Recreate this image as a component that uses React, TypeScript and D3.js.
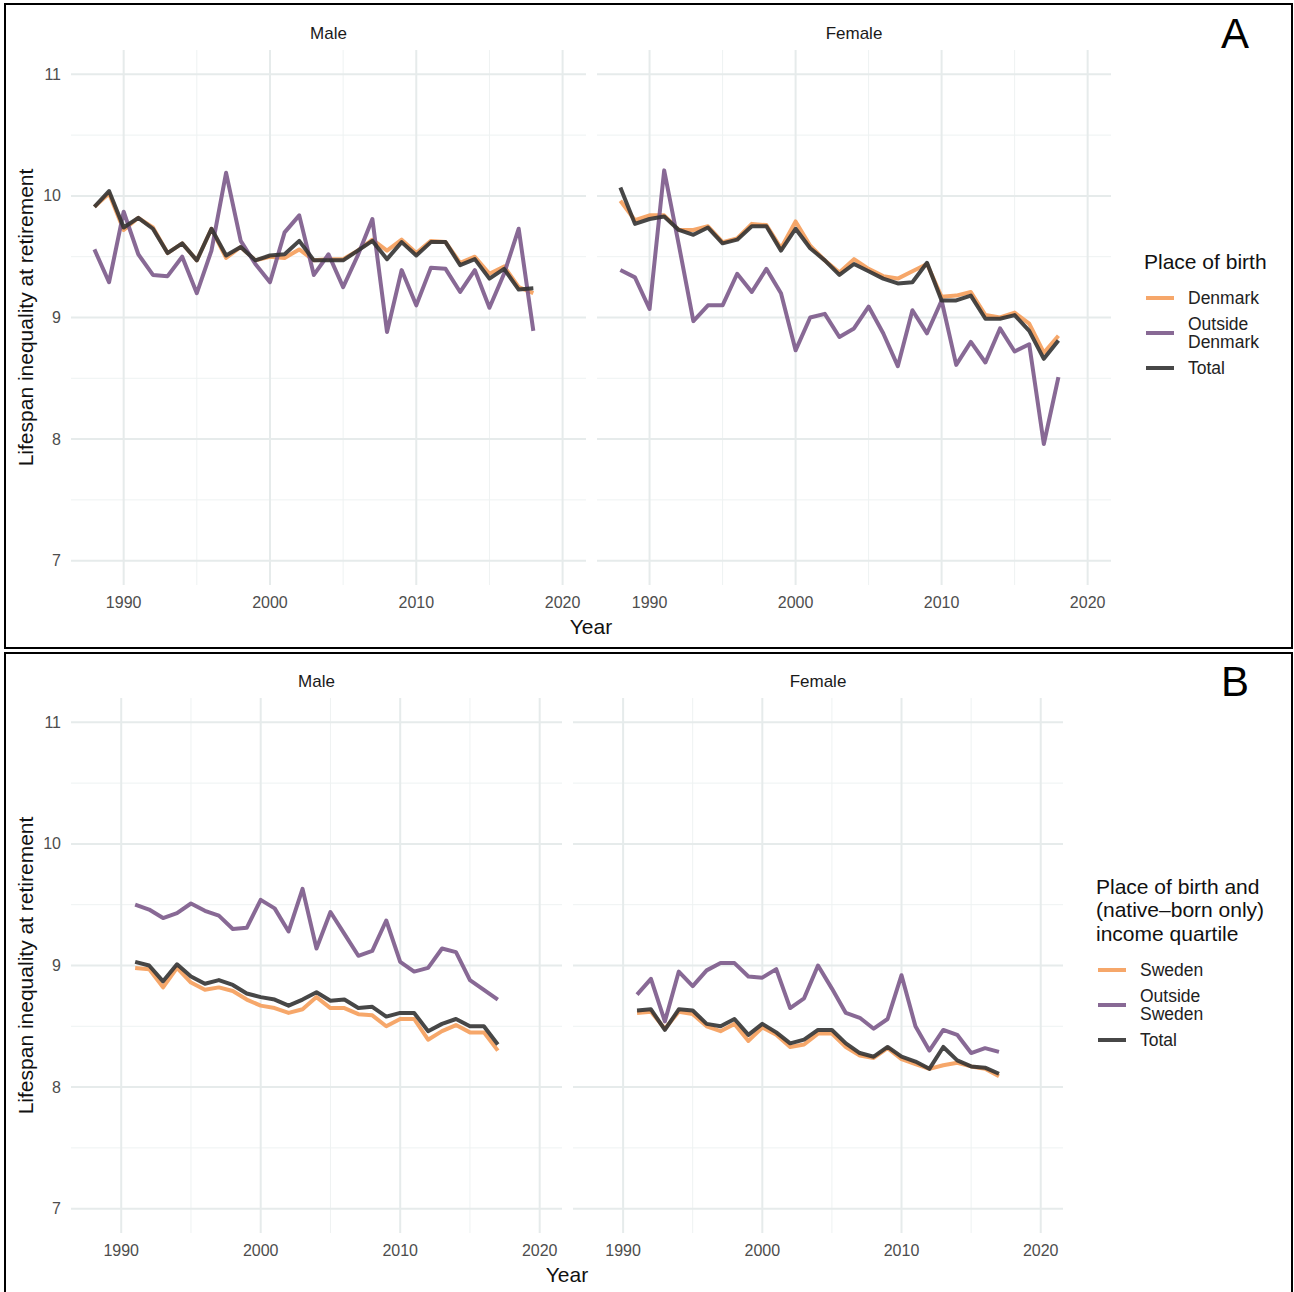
import * as d3 from 'd3';
import React from 'react';

// years on the x axis
const yearsA = [1988, 1989, 1990, 1991, 1992, 1993, 1994, 1995, 1996, 1997, 1998, 1999, 2000, 2001, 2002, 2003,
  2004, 2005, 2006, 2007, 2008, 2009, 2010, 2011, 2012, 2013, 2014, 2015, 2016, 2017, 2018];
const yearsB = [1991, 1992, 1993, 1994, 1995, 1996, 1997, 1998, 1999, 2000, 2001, 2002, 2003, 2004, 2005, 2006,
  2007, 2008, 2009, 2010, 2011, 2012, 2013, 2014, 2015, 2016, 2017];

// panel A - Denmark
const aMaleDenmark = [9.91, 10.02, 9.72, 9.82, 9.74, 9.53, 9.61, 9.47, 9.73, 9.49, 9.58, 9.47, 9.50, 9.49, 9.56, 9.47,
  9.48, 9.48, 9.55, 9.64, 9.55, 9.64, 9.53, 9.63, 9.62, 9.45, 9.50, 9.36, 9.42, 9.25, 9.20];
const aMaleOutside = [9.56, 9.29, 9.87, 9.52, 9.35, 9.34, 9.50, 9.20, 9.55, 10.19, 9.63, 9.44, 9.29, 9.70, 9.84, 9.35,
  9.52, 9.25, 9.51, 9.81, 8.88, 9.39, 9.10, 9.41, 9.40, 9.21, 9.39, 9.08, 9.36, 9.73, 8.89];
const aMaleTotal = [9.91, 10.04, 9.74, 9.82, 9.73, 9.53, 9.61, 9.47, 9.73, 9.51, 9.58, 9.47, 9.51, 9.52, 9.63, 9.47,
  9.47, 9.47, 9.55, 9.63, 9.48, 9.62, 9.51, 9.62, 9.62, 9.43, 9.48, 9.32, 9.40, 9.23, 9.24];
const aFemaleDenmark = [9.96, 9.80, 9.84, 9.84, 9.72, 9.72, 9.75, 9.62, 9.65, 9.77, 9.76, 9.57, 9.79, 9.59, 9.47, 9.37,
  9.48, 9.40, 9.34, 9.32, 9.38, 9.44, 9.17, 9.18, 9.21, 9.02, 9.00, 9.04, 8.95, 8.71, 8.85];
const aFemaleOutside = [9.39, 9.33, 9.07, 10.21, 9.60, 8.97, 9.10, 9.10, 9.36, 9.21, 9.40, 9.20, 8.73, 9.00, 9.03, 8.84,
  8.91, 9.09, 8.87, 8.60, 9.06, 8.87, 9.14, 8.61, 8.80, 8.63, 8.91, 8.72, 8.78, 7.96, 8.51];
const aFemaleTotal = [10.07, 9.77, 9.81, 9.83, 9.72, 9.68, 9.74, 9.61, 9.64, 9.75, 9.75, 9.55, 9.73, 9.57, 9.47, 9.35,
  9.44, 9.38, 9.32, 9.28, 9.29, 9.45, 9.14, 9.14, 9.18, 8.99, 8.99, 9.02, 8.89, 8.66, 8.81];

// panel B - Sweden
const bMaleSweden = [8.98, 8.97, 8.82, 8.98, 8.86, 8.80, 8.82, 8.79, 8.72, 8.67, 8.65, 8.61, 8.64, 8.74, 8.65, 8.65,
  8.60, 8.59, 8.50, 8.56, 8.56, 8.39, 8.46, 8.51, 8.45, 8.45, 8.30];
const bMaleOutside = [9.50, 9.46, 9.39, 9.43, 9.51, 9.45, 9.41, 9.30, 9.31, 9.54, 9.47, 9.28, 9.63, 9.14, 9.44, 9.26,
  9.08, 9.12, 9.37, 9.03, 8.95, 8.98, 9.14, 9.11, 8.88, 8.80, 8.72];
const bMaleTotal = [9.03, 9.00, 8.87, 9.01, 8.91, 8.85, 8.88, 8.84, 8.77, 8.74, 8.72, 8.67, 8.72, 8.78, 8.71, 8.72,
  8.65, 8.66, 8.58, 8.61, 8.61, 8.46, 8.52, 8.56, 8.50, 8.50, 8.35];
const bFemaleSweden = [8.61, 8.62, 8.48, 8.62, 8.60, 8.50, 8.46, 8.52, 8.38, 8.49, 8.43, 8.33, 8.35, 8.44, 8.44, 8.33,
  8.26, 8.24, 8.32, 8.23, 8.19, 8.15, 8.18, 8.20, 8.17, 8.15, 8.09];
const bFemaleOutside = [8.76, 8.89, 8.54, 8.95, 8.83, 8.96, 9.02, 9.02, 8.91, 8.90, 8.97, 8.65, 8.73, 9.00, 8.81, 8.61,
  8.57, 8.48, 8.56, 8.92, 8.50, 8.30, 8.47, 8.43, 8.28, 8.32, 8.29];
const bFemaleTotal = [8.63, 8.64, 8.47, 8.64, 8.63, 8.52, 8.50, 8.56, 8.43, 8.52, 8.45, 8.36, 8.39, 8.47, 8.47, 8.36,
  8.28, 8.25, 8.33, 8.25, 8.21, 8.15, 8.33, 8.22, 8.17, 8.16, 8.11];

const xTicks = [1990, 2000, 2010, 2020];
const xMinor = [1995, 2005, 2015];
const yTicks = [7, 8, 9, 10, 11];
const yMinor = [7.5, 8.5, 9.5, 10.5];

const colors = ['#f59d5a', '#7b5989', '#333333'];
const font = '"Liberation Sans", Arial, Helvetica, sans-serif';

function Facet({ x0, x1, top, bottom, label, series, years }) {
  const x = d3.scaleLinear().domain([1986.4, 2021.6]).range([x0, x1]);
  const y = d3.scaleLinear().domain([6.8, 11.2]).range([bottom, top]);
  const line = d3.line().x((d) => x(d[0])).y((d) => y(d[1]));
  return (
    <g>
      {yMinor.map((t) => (
        <line key={'ym' + t} x1={x0} x2={x1} y1={y(t)} y2={y(t)} stroke="#eef2f2" strokeWidth={1} />
      ))}
      {xMinor.map((t) => (
        <line key={'xm' + t} x1={x(t)} x2={x(t)} y1={top} y2={bottom} stroke="#eef2f2" strokeWidth={1} />
      ))}
      {yTicks.map((t) => (
        <line key={'y' + t} x1={x0} x2={x1} y1={y(t)} y2={y(t)} stroke="#e6ebeb" strokeWidth={2} />
      ))}
      {xTicks.map((t) => (
        <line key={'x' + t} x1={x(t)} x2={x(t)} y1={top} y2={bottom} stroke="#e6ebeb" strokeWidth={2} />
      ))}
      {xTicks.map((t) => (
        <text key={'xl' + t} x={x(t)} y={bottom + 17} textAnchor="middle" dominantBaseline="central"
          fontSize={16} fill="#4d4d4d">{t}</text>
      ))}
      <text x={(x0 + x1) / 2} y={top - 17} textAnchor="middle" dominantBaseline="central" fontSize={17}
        fill="#1a1a1a">{label}</text>
      {series.map((vals, i) => (
        <path key={i} d={line(years.map((yr, j) => [yr, vals[j]]))} fill="none" stroke={colors[i]}
          strokeWidth={4} strokeOpacity={0.9} strokeLinejoin="round" />
      ))}
    </g>
  );
}

function Block({ top, bottom, panels, years, tag, legendTitle, legendItems, legend }) {
  const y = d3.scaleLinear().domain([6.8, 11.2]).range([bottom, top]);
  const midY = (top + bottom) / 2;
  const midX = (panels[0].x0 + panels[1].x1) / 2;
  return (
    <g>
      {yTicks.map((t) => (
        <text key={t} x={61} y={y(t)} textAnchor="end" dominantBaseline="central" fontSize={16}
          fill="#4d4d4d">{t}</text>
      ))}
      <text transform={`translate(25,${midY}) rotate(-90)`} textAnchor="middle" dominantBaseline="central"
        fontSize={21} fill="#111">Lifespan inequality at retirement</text>
      {panels.map((p) => (
        <Facet key={p.label} {...p} top={top} bottom={bottom} years={years} />
      ))}
      <text x={midX} y={bottom + 41} textAnchor="middle" dominantBaseline="central" fontSize={21}
        fill="#111">Year</text>
      <text x={1235} y={top - 17} textAnchor="middle" dominantBaseline="central" fontSize={42}
        fill="#000">{tag}</text>
      {legendTitle.map((s, i) => (
        <text key={s} x={legend.x} y={legend.titleY + i * 23.5} dominantBaseline="central" fontSize={21}
          fill="#111">{s}</text>
      ))}
      {legendItems.map((it, i) => (
        <g key={i}>
          <line x1={legend.x + 2} x2={legend.x + 30} y1={legend.ys[i]} y2={legend.ys[i]} stroke={colors[i]}
            strokeWidth={4} strokeOpacity={0.9} />
          {it.map((s, k) => (
            <text key={k} x={legend.x + 44} y={legend.ys[i] + (k - (it.length - 1) / 2) * 18.5}
              dominantBaseline="central" fontSize={17.5} fill="#222">{s}</text>
          ))}
        </g>
      ))}
    </g>
  );
}

export default function App() {
  return (
    <div>
      <style>{'body{margin:0}'}</style>
      <svg width={1294} height={1292} style={{ display: 'block', fontFamily: font }}>
        <rect x={0} y={0} width={1294} height={1292} fill="#fff" />
        <rect x={5} y={4} width={1287} height={644} fill="none" stroke="#000" strokeWidth={2} />
        <rect x={5} y={653} width={1287} height={645} fill="none" stroke="#000" strokeWidth={2} />
        <Block top={50} bottom={585} years={yearsA} tag="A"
          panels={[
            { x0: 71, x1: 586, label: 'Male', series: [aMaleDenmark, aMaleOutside, aMaleTotal] },
            { x0: 597, x1: 1111, label: 'Female', series: [aFemaleDenmark, aFemaleOutside, aFemaleTotal] },
          ]}
          legendTitle={['Place of birth']}
          legendItems={[['Denmark'], ['Outside', 'Denmark'], ['Total']]}
          legend={{ x: 1144, titleY: 261, ys: [298, 333, 368] }} />
        <Block top={698} bottom={1233} years={yearsB} tag="B"
          panels={[
            { x0: 71, x1: 562, label: 'Male', series: [bMaleSweden, bMaleOutside, bMaleTotal] },
            { x0: 573, x1: 1063, label: 'Female', series: [bFemaleSweden, bFemaleOutside, bFemaleTotal] },
          ]}
          legendTitle={['Place of birth and', '(native\u2013born only)', 'income quartile']}
          legendItems={[['Sweden'], ['Outside', 'Sweden'], ['Total']]}
          legend={{ x: 1096, titleY: 886, ys: [970, 1005, 1040] }} />
      </svg>
    </div>
  );
}
